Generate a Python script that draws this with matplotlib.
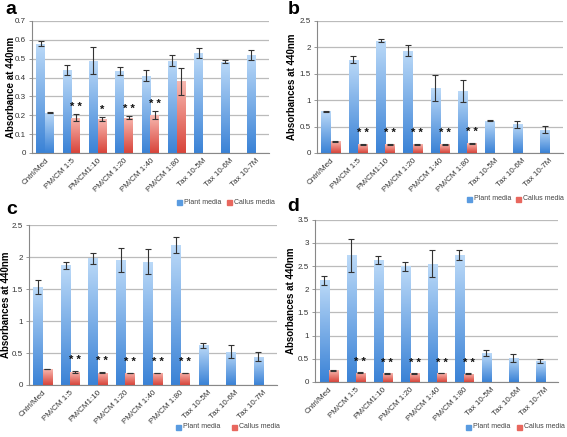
import numpy as np
import matplotlib
matplotlib.use("Agg")
import matplotlib.pyplot as plt
from matplotlib.colors import LinearSegmentedColormap

categories = ["Cntrl/Med", "PM/CM 1:5", "PM/CM1:10", "PM/CM 1:20", "PM/CM 1:40",
              "PM/CM 1:80", "Tax 10-5M", "Tax 10-6M", "Tax 10-7M"]

# Panel a
a_plant = [0.58, 0.44, 0.49, 0.435, 0.41, 0.49, 0.53, 0.485, 0.52]
a_plant_err = [0.015, 0.025, 0.072, 0.02, 0.03, 0.027, 0.025, 0.006, 0.025]
a_callus = [0.213, 0.188, 0.18, 0.188, 0.2, 0.38]
a_callus_err = [0.003, 0.018, 0.01, 0.006, 0.022, 0.072]
a_stars = ["", "**", "*", "**", "**", ""]

# Panel b
b_plant = [0.79, 1.77, 2.13, 1.94, 1.23, 1.18, 0.61, 0.54, 0.44]
b_plant_err = [0.01, 0.07, 0.02, 0.11, 0.25, 0.21, 0.01, 0.07, 0.07]
b_callus = [0.22, 0.165, 0.165, 0.165, 0.165, 0.18]
b_callus_err = [0.01, 0.005, 0.005, 0.005, 0.005, 0.005]
b_stars = ["", "**", "**", "**", "**", "**"]

# Panel c
c_plant = [1.53, 1.87, 1.98, 1.95, 1.93, 2.19, 0.62, 0.52, 0.44]
c_plant_err = [0.11, 0.06, 0.09, 0.19, 0.2, 0.12, 0.04, 0.1, 0.07]
c_callus = [0.25, 0.2, 0.195, 0.19, 0.19, 0.19]
c_callus_err = [0.005, 0.02, 0.01, 0.005, 0.005, 0.005]
c_stars = ["", "**", "**", "**", "**", "**"]

# Panel d
d_plant = [2.19, 2.73, 2.63, 2.5, 2.55, 2.74, 0.62, 0.52, 0.45]
d_plant_err = [0.09, 0.36, 0.09, 0.1, 0.29, 0.11, 0.07, 0.09, 0.05]
d_callus = [0.25, 0.2, 0.19, 0.19, 0.19, 0.18]
d_callus_err = [0.005, 0.01, 0.01, 0.01, 0.005, 0.01]
d_stars = ["", "**", "**", "**", "**", "**"]

blue_cmap = LinearSegmentedColormap.from_list("b", ["#3a82d6", "#bcdaf8"])
red_cmap = LinearSegmentedColormap.from_list("r", ["#d8443a", "#f8b8b0"])
grad = np.linspace(0, 1, 256).reshape(-1, 1)

plt.rcParams['font.family'] = ['Liberation Sans', 'DejaVu Sans']
fig = plt.figure(figsize=(5.67, 4.37), dpi=100)
W, H = 567.0, 437.0

def gbar(ax, x, h, w, cmap):
    bars = ax.bar(x, h, w, color="none", edgecolor="none", zorder=2)
    for b in bars:
        x0, y0 = b.get_x(), b.get_y()
        im = ax.imshow(grad, cmap=cmap, aspect="auto", origin="lower",
                       extent=[x0, x0 + b.get_width(), y0, y0 + b.get_height()],
                       zorder=2)
        im.set_clip_path(b)
    return bars

def panel(rect, plant, perr, callus, cerr, stars, ymax, ystep, ylabel, ylab_x,
          letter, lpos, lgap, star_off, first_callus_blue=False):
    ax = fig.add_axes(rect)
    n = len(categories)
    x = np.arange(n)
    w = 0.34
    gbar(ax, x - w / 2, plant, w, blue_cmap)
    ax.errorbar(x - w / 2, plant, yerr=perr, fmt="none", ecolor="#333333",
                elinewidth=0.8, capsize=2, capthick=0.8, zorder=3)
    xc = np.arange(len(callus)) + w / 2
    for i in range(len(callus)):
        cm = blue_cmap if (first_callus_blue and i == 0) else red_cmap
        gbar(ax, [xc[i]], [callus[i]], w, cm)
    ax.errorbar(xc, callus, yerr=cerr, fmt="none", ecolor="#333333",
                elinewidth=0.8, capsize=2, capthick=0.8, zorder=3)
    for i, s in enumerate(stars):
        if s:
            ax.annotate(s.replace("**", "* *"), (xc[i], callus[i] + cerr[i]),
                        xytext=(0, star_off), textcoords="offset pixels",
                        ha="center", va="center", fontsize=8, fontweight="bold",
                        color="#111111")
    ax.set_xlim(-0.5, n - 0.5)
    ax.set_ylim(0, ymax)
    ticks = np.arange(0, ymax + ystep / 2, ystep)
    ax.set_yticks(ticks)
    ax.set_yticklabels([("%g" % t) for t in ticks], fontsize=5.8, color="#333333")
    ax.set_xticks(x)
    ax.set_xticklabels(categories, rotation=45, ha="right", rotation_mode="anchor",
                       fontsize=5.8, color="#333333")
    ax.tick_params(axis="x", length=0, pad=3)
    ax.tick_params(axis="y", length=2.5, width=0.6, color="#888888", pad=2)
    ax.yaxis.grid(True, color="#bbbbbb", linewidth=0.9, zorder=0)
    ax.set_axisbelow(True)
    for sp in ["top", "right"]:
        ax.spines[sp].set_visible(False)
    for sp in ["left", "bottom"]:
        ax.spines[sp].set_color("#888888")
        ax.spines[sp].set_linewidth(0.8)
    # y label
    yc = rect[1] + rect[3] / 2
    fig.text(ylab_x / W, yc, ylabel, rotation=90, ha="center", va="center",
             fontsize=7, fontweight="bold")
    # legend
    lx, ly = lpos[0] / W, 1 - lpos[1] / H
    fig.patches.append(plt.Rectangle((lx, ly - 0.007), 0.009, 0.012, color="#5a9be0",
                                     transform=fig.transFigure, figure=fig))
    fig.text(lx + 0.012, ly, "Plant media", fontsize=5, color="#444444", va="center")
    g = lgap / W
    fig.patches.append(plt.Rectangle((lx + g, ly - 0.007), 0.009, 0.012, color="#e8675e",
                                     transform=fig.transFigure, figure=fig))
    fig.text(lx + g + 0.012, ly, "Callus media", fontsize=5, color="#444444", va="center")
    fig.text(letter[1] / W, 1 - letter[2] / H, letter[0], fontsize=14,
             fontweight="bold", ha="center", va="center")
    return ax

panel([0.0564, 0.650, 0.418, 0.302], a_plant, a_plant_err, a_callus, a_callus_err,
      a_stars, 0.7, 0.1, "Absorbance at 440nm", 11, ("a", 11, 9), (177, 202), 50, 7,
      first_callus_blue=True)
panel([0.559, 0.650, 0.434, 0.302], b_plant, b_plant_err, b_callus, b_callus_err,
      b_stars, 2.5, 0.5, "Absorbances at 440nm", 292, ("b", 294, 9), (467, 199), 49, 11)
panel([0.051, 0.119, 0.437, 0.366], c_plant, c_plant_err, c_callus, c_callus_err,
      c_stars, 2.5, 0.5, "Absorbances at 440nm", 6, ("c", 12, 209), (176, 427), 56, 11)
panel([0.556, 0.126, 0.429, 0.371], d_plant, d_plant_err, d_callus, d_callus_err,
      d_stars, 3.5, 0.5, "Absorbances at 440nm", 291, ("d", 293, 207), (466, 427), 51, 10)

fig.savefig("out.png", dpi=100)
